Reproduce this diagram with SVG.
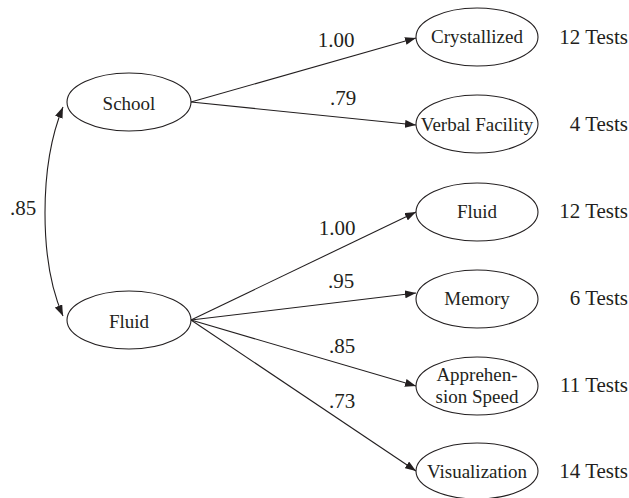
<svg xmlns="http://www.w3.org/2000/svg" width="629" height="498" viewBox="0 0 629 498">
  <defs>
    <marker id="arrow" viewBox="0 0 11 8" refX="11" refY="4" markerWidth="11" markerHeight="8" markerUnits="userSpaceOnUse" orient="auto-start-reverse">
      <path d="M0,0 L11,4 L0,8 z" fill="#231f20"/>
    </marker>
    <style>
      text { font-family: "Liberation Serif", "Times New Roman", serif; font-size: 19px; fill: #231f20; }
      .node ellipse { fill: #ffffff; stroke: #231f20; stroke-width: 1.1; }
      .node text { text-anchor: middle; }
      .count { text-anchor: end; font-size: 21px; }
      .weight { text-anchor: middle; font-size: 21px; }
      #connectors path, #connectors line { fill: none; stroke: #231f20; stroke-width: 1.1; }
    </style>
  </defs>

  <rect width="629" height="498" fill="#ffffff"/>

  <!-- connectors -->
  <g id="connectors">
    <path d="M63,107 C39,165 39,262 63,316" marker-start="url(#arrow)" marker-end="url(#arrow)"/>
    <line x1="191" y1="102" x2="416" y2="38" marker-end="url(#arrow)"/>
    <line x1="191" y1="102" x2="416" y2="125" marker-end="url(#arrow)"/>
    <line x1="191" y1="320" x2="416" y2="212" marker-end="url(#arrow)"/>
    <line x1="191" y1="320" x2="416" y2="293" marker-end="url(#arrow)"/>
    <line x1="191" y1="320" x2="416" y2="386" marker-end="url(#arrow)"/>
    <line x1="191" y1="320" x2="416" y2="471" marker-end="url(#arrow)"/>
  </g>

  <!-- path weights -->
  <g id="weights">
    <text class="weight" x="23" y="215">.85</text>
    <text class="weight" x="336" y="47">1.00</text>
    <text class="weight" x="343" y="105">.79</text>
    <text class="weight" x="337" y="235">1.00</text>
    <text class="weight" x="341" y="288">.95</text>
    <text class="weight" x="342" y="353">.85</text>
    <text class="weight" x="342" y="408">.73</text>
  </g>

  <!-- latent factors -->
  <g id="school" class="node">
    <ellipse cx="129" cy="102" rx="62" ry="29"/>
    <text x="129" y="110">School</text>
  </g>
  <g id="fluid-factor" class="node">
    <ellipse cx="129" cy="320" rx="62" ry="29"/>
    <text x="129" y="328">Fluid</text>
  </g>

  <!-- indicator factors -->
  <g id="crystallized" class="node">
    <ellipse cx="477" cy="37" rx="61" ry="29"/>
    <text x="477" y="43">Crystallized</text>
  </g>
  <g id="verbal-facility" class="node">
    <ellipse cx="477" cy="124" rx="61" ry="29"/>
    <text x="477" y="131">Verbal Facility</text>
  </g>
  <g id="fluid" class="node">
    <ellipse cx="477" cy="212" rx="61" ry="29"/>
    <text x="477" y="218">Fluid</text>
  </g>
  <g id="memory" class="node">
    <ellipse cx="477" cy="299" rx="61" ry="29"/>
    <text x="477" y="305">Memory</text>
  </g>
  <g id="apprehension-speed" class="node">
    <ellipse cx="477" cy="386" rx="61" ry="29"/>
    <text x="477" y="381">Apprehen-</text>
    <text x="477" y="403">sion Speed</text>
  </g>
  <g id="visualization" class="node">
    <ellipse cx="477" cy="471" rx="61" ry="28"/>
    <text x="477" y="478">Visualization</text>
  </g>

  <!-- test counts -->
  <g id="counts">
    <text class="count" x="628" y="44">12 Tests</text>
    <text class="count" x="628" y="131">4 Tests</text>
    <text class="count" x="628" y="218">12 Tests</text>
    <text class="count" x="628" y="305">6 Tests</text>
    <text class="count" x="628" y="392">11 Tests</text>
    <text class="count" x="628" y="478">14 Tests</text>
  </g>
</svg>
